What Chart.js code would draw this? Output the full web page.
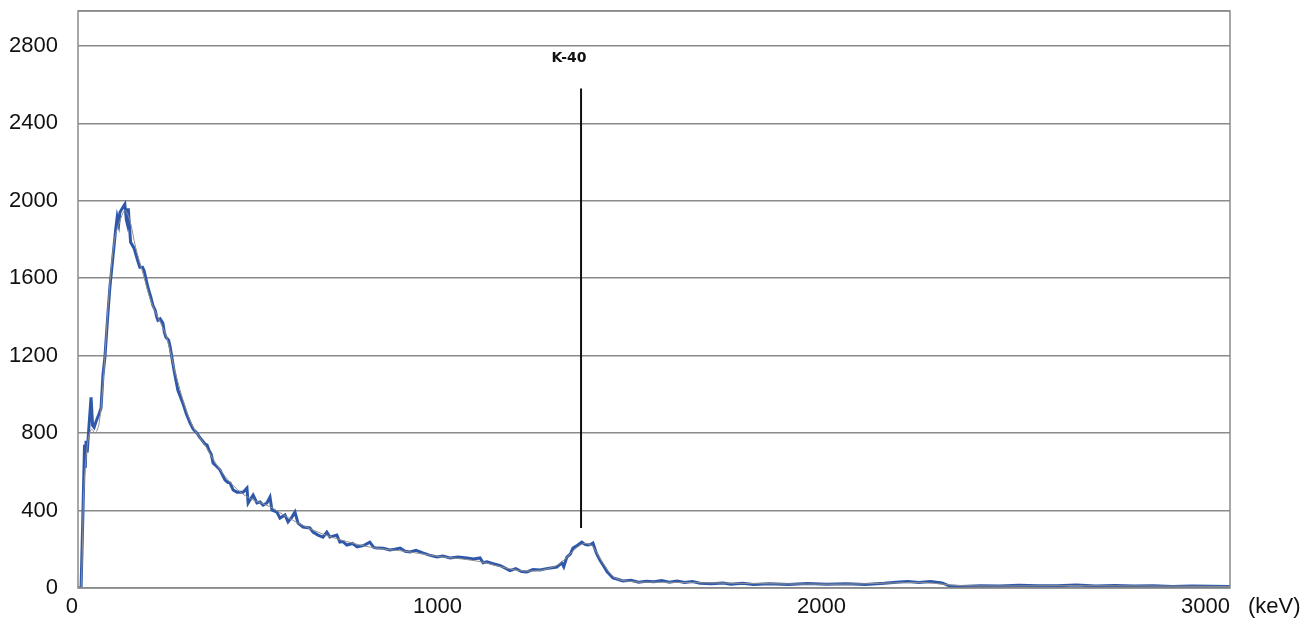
<!DOCTYPE html>
<html>
<head>
<meta charset="utf-8">
<script src="https://cdn.jsdelivr.net/npm/chart.js@4"></script>
<style>
  html, body { margin: 0; padding: 0; background: #fff; }
  canvas { display: block; }
</style>
</head>
<body>
<canvas id="spectrum" width="1316" height="619"></canvas>
<script>
// measured spectrum (keV, counts)
const energy = [0, 5, 8, 13, 17, 19, 21, 24, 28, 34, 38, 42, 47, 55, 60, 65, 70, 78, 83, 91, 98, 102, 106, 109, 115, 122, 126, 128, 131, 133, 137, 146, 154, 161, 168, 172, 182, 190, 195, 201, 205, 208, 214, 221, 225, 229, 236, 240, 250, 260, 273, 282, 292, 300, 310, 316, 323, 330, 336, 341, 347, 352, 360, 370, 377, 383, 390, 396, 404, 414, 430, 440, 443, 456, 466, 474, 482, 492, 500, 505, 518, 526, 539, 547, 557, 565, 573, 586, 604, 612, 625, 638, 648, 656, 674, 682, 690, 700, 715, 727, 745, 760, 770, 779, 795, 812, 825, 839, 852, 865, 880, 898, 915, 935, 950, 969, 990, 1013, 1030, 1047, 1055, 1065, 1081, 1100, 1125, 1140, 1155, 1169, 1185, 1203, 1220, 1235, 1247, 1260, 1265, 1273, 1282, 1289, 1300, 1312, 1320, 1328, 1335, 1341, 1350, 1359, 1370, 1378, 1393, 1405, 1419, 1440, 1460, 1480, 1500, 1520, 1540, 1560, 1580, 1600, 1620, 1650, 1680, 1700, 1730, 1760, 1800, 1850, 1900, 1950, 2000, 2050, 2100, 2130, 2160, 2190, 2220, 2250, 2270, 2300, 2350, 2400, 2450, 2500, 2550, 2600, 2650, 2700, 2750, 2800, 2850, 2900, 2950, 3000];
const counts = [0, 0, 0, 400, 740, 620, 760, 700, 820, 985, 840, 830, 860, 900, 930, 1100, 1190, 1420, 1553, 1710, 1850, 1915, 1880, 1940, 1960, 1982, 1900, 1884, 1961, 1900, 1786, 1755, 1700, 1657, 1657, 1640, 1553, 1500, 1460, 1435, 1400, 1383, 1390, 1368, 1320, 1295, 1280, 1244, 1125, 1022, 955, 900, 852, 820, 800, 780, 764, 745, 738, 712, 690, 645, 630, 609, 580, 557, 545, 542, 506, 495, 495, 516, 439, 480, 439, 444, 428, 439, 470, 403, 392, 361, 377, 341, 366, 392, 335, 315, 310, 289, 273, 263, 289, 263, 273, 237, 240, 222, 230, 212, 220, 237, 210, 206, 205, 196, 200, 206, 190, 186, 195, 181, 170, 160, 165, 155, 160, 155, 150, 155, 130, 135, 125, 115, 90, 100, 85, 83, 95, 93, 100, 105, 108, 130, 110, 160, 175, 206, 220, 237, 225, 222, 225, 232, 180, 144, 110, 83, 52, 45, 36, 40, 30, 35, 32, 38, 30, 36, 28, 33, 25, 22, 26, 20, 24, 18, 22, 18, 23, 19, 22, 18, 24, 30, 34, 28, 33, 26, 10, 8, 12, 10, 14, 11, 12, 15, 10, 13, 10, 12, 8, 10, 9, 8];

// smoothed curve (thin gray)
const smoothEnergy = [0, 8, 15, 25, 35, 45, 55, 65, 80, 95, 110, 122, 135, 150, 170, 190, 210, 230, 250, 275, 300, 330, 360, 390, 420, 450, 500, 550, 600, 650, 700, 750, 800, 850, 900, 950, 1000, 1050, 1100, 1150, 1200, 1250, 1300, 1320, 1340, 1370, 1400, 1450, 1500, 1600, 1800, 2000, 2200, 2300, 2600, 3000];
const smoothCounts = [0, 0, 500, 750, 820, 800, 850, 1050, 1500, 1800, 1900, 1950, 1900, 1760, 1620, 1480, 1390, 1300, 1140, 960, 830, 740, 640, 560, 500, 460, 420, 360, 310, 270, 240, 215, 200, 190, 175, 160, 150, 135, 110, 90, 90, 120, 210, 230, 215, 120, 50, 32, 30, 28, 22, 20, 28, 12, 12, 8];

// K-40 marker
const markerLabel = 'K-40';
const markerX = [1310, 1310];
const markerY = [310, 2580];
const markerLabelY = 2735;

const xTicks = [0, 1000, 2000, 3000];
const xUnit = '(keV)';

const toPoints = (xs, ys) => xs.map((x, i) => ({ x: x, y: ys[i] }));

const frame = {
  id: 'frame',
  afterDraw(chart) {
    const { ctx, chartArea: a, scales } = chart;
    ctx.save();
    ctx.strokeStyle = '#8a8a8a';
    ctx.lineWidth = 1.5;
    ctx.strokeRect(a.left, a.top, a.right - a.left, a.bottom - a.top);

    ctx.fillStyle = '#111';
    ctx.font = 'bold 14px "DejaVu Sans", sans-serif';
    ctx.textAlign = 'center';
    ctx.textBaseline = 'middle';
    ctx.fillText(markerLabel, scales.x.getPixelForValue(markerX[0]) - 12, scales.y.getPixelForValue(markerLabelY));

    ctx.font = '22px "Liberation Sans", Arial, sans-serif';
    ctx.textAlign = 'left';
    ctx.fillText(xUnit, a.right + 18, a.bottom + 19);
    ctx.restore();
  }
};

new Chart(document.getElementById('spectrum'), {
  type: 'line',
  data: {
    datasets: [
      {
        label: 'smooth',
        data: toPoints(smoothEnergy, smoothCounts),
        borderColor: '#8f8f8f',
        borderWidth: 1,
        pointRadius: 0,
        tension: 0.3
      },
      {
        label: 'spectrum',
        data: toPoints(energy, counts),
        borderColor: '#2f58aa',
        borderWidth: 3,
        pointRadius: 0,
        tension: 0
      },
      {
        label: markerLabel,
        data: toPoints(markerX, markerY),
        borderColor: '#111',
        borderWidth: 2,
        pointRadius: 0
      }
    ]
  },
  options: {
    responsive: false,
    animation: false,
    layout: { padding: { top: 11, right: 86, left: 0, bottom: 0 } },
    plugins: {
      legend: { display: false },
      tooltip: { enabled: false }
    },
    scales: {
      x: {
        type: 'linear',
        min: 0,
        max: 3000,
        afterBuildTicks: (axis) => { axis.ticks = xTicks.map(v => ({ value: v })); },
        afterFit: (axis) => { axis.height = 31; axis.paddingLeft = 0; axis.paddingRight = 0; },
        grid: { display: false, drawTicks: false },
        border: { display: false },
        ticks: {
          align: 'end',
          padding: 6,
          color: '#111',
          font: { family: '"Liberation Sans", Arial, sans-serif', size: 22 },
          callback: (v) => String(v)
        }
      },
      y: {
        min: 0,
        max: 2980,
        afterFit: (axis) => { axis.width = 78; axis.paddingTop = 0; axis.paddingBottom = 0; },
        grid: { color: '#8a8a8a', lineWidth: 1.5, drawTicks: false },
        border: { display: false },
        ticks: {
          stepSize: 400,
          padding: 20,
          color: '#111',
          font: { family: '"Liberation Sans", Arial, sans-serif', size: 22 },
          callback: (v) => (v > 2800 ? '' : String(v))
        }
      }
    }
  },
  plugins: [frame]
});
</script>
</body>
</html>
